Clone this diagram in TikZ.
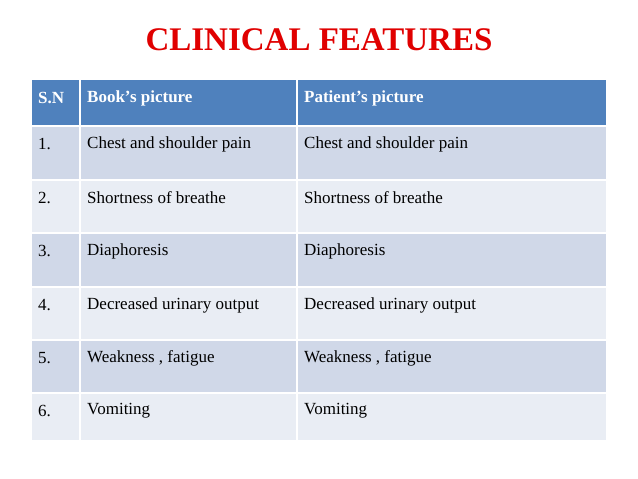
\documentclass[tikz,border=0pt]{standalone}
\usepackage{fontspec}
\setmainfont{Liberation Serif}
\definecolor{hdr}{HTML}{4F81BD}
\definecolor{rowa}{HTML}{D0D8E8}
\definecolor{rowb}{HTML}{E9EDF4}
\definecolor{ttl}{HTML}{E00000}
\begin{document}
\begin{tikzpicture}[x=1pt,y=-1pt,
  cell/.style={anchor=west,font=\fontsize{17}{20}\selectfont,inner sep=0pt},
  hcell/.style={cell,text=white,font=\fontsize{17}{20}\selectfont\bfseries}]
\useasboundingbox (0,0) rectangle (638,479);
\node[font=\fontsize{33}{38}\selectfont\bfseries,text=ttl] (title) at (319,40) {CLINICAL FEATURES};
\fill[hdr] (32,80) rectangle (606,126);
\def\ys{{126,180,233,287,340,393,440}}
\foreach \i in {0,...,5}{
  \pgfmathsetmacro\ya{\ys[\i]}\pgfmathsetmacro\yb{\ys[\i+1]}
  \pgfmathparse{mod(\i,2)==0?1:0}
  \ifnum\pgfmathresult=1 \fill[rowa] (32,\ya) rectangle (606,\yb);
  \else \fill[rowb] (32,\ya) rectangle (606,\yb);\fi
}
\foreach \y in {126,180,233,287,340,393}{\draw[white,line width=1.2pt] (32,\y) -- (606,\y);}
\draw[white,line width=1.2pt] (80,80) -- (80,440);
\draw[white,line width=1.2pt] (297,80) -- (297,440);
\node[hcell] (h1) at (38,98) {S.N};
\node[hcell] (h2) at (87,98) {Book’s picture};
\node[hcell] (h3) at (304,98) {Patient’s picture};
\foreach \n/\t [count=\i from 0] in {1./Chest and shoulder pain,2./Shortness of breathe,3./Diaphoresis,4./Decreased urinary output,5./{Weakness , fatigue},6./Vomiting}{
  \pgfmathsetmacro\yy{\ys[\i]+18}
  \node[cell] (n\i) at (38,\yy) {\n};
  \node[cell] (b\i) at (87,\yy) {\t};
  \node[cell] (p\i) at (304,\yy) {\t};
}
\end{tikzpicture}
\end{document}
